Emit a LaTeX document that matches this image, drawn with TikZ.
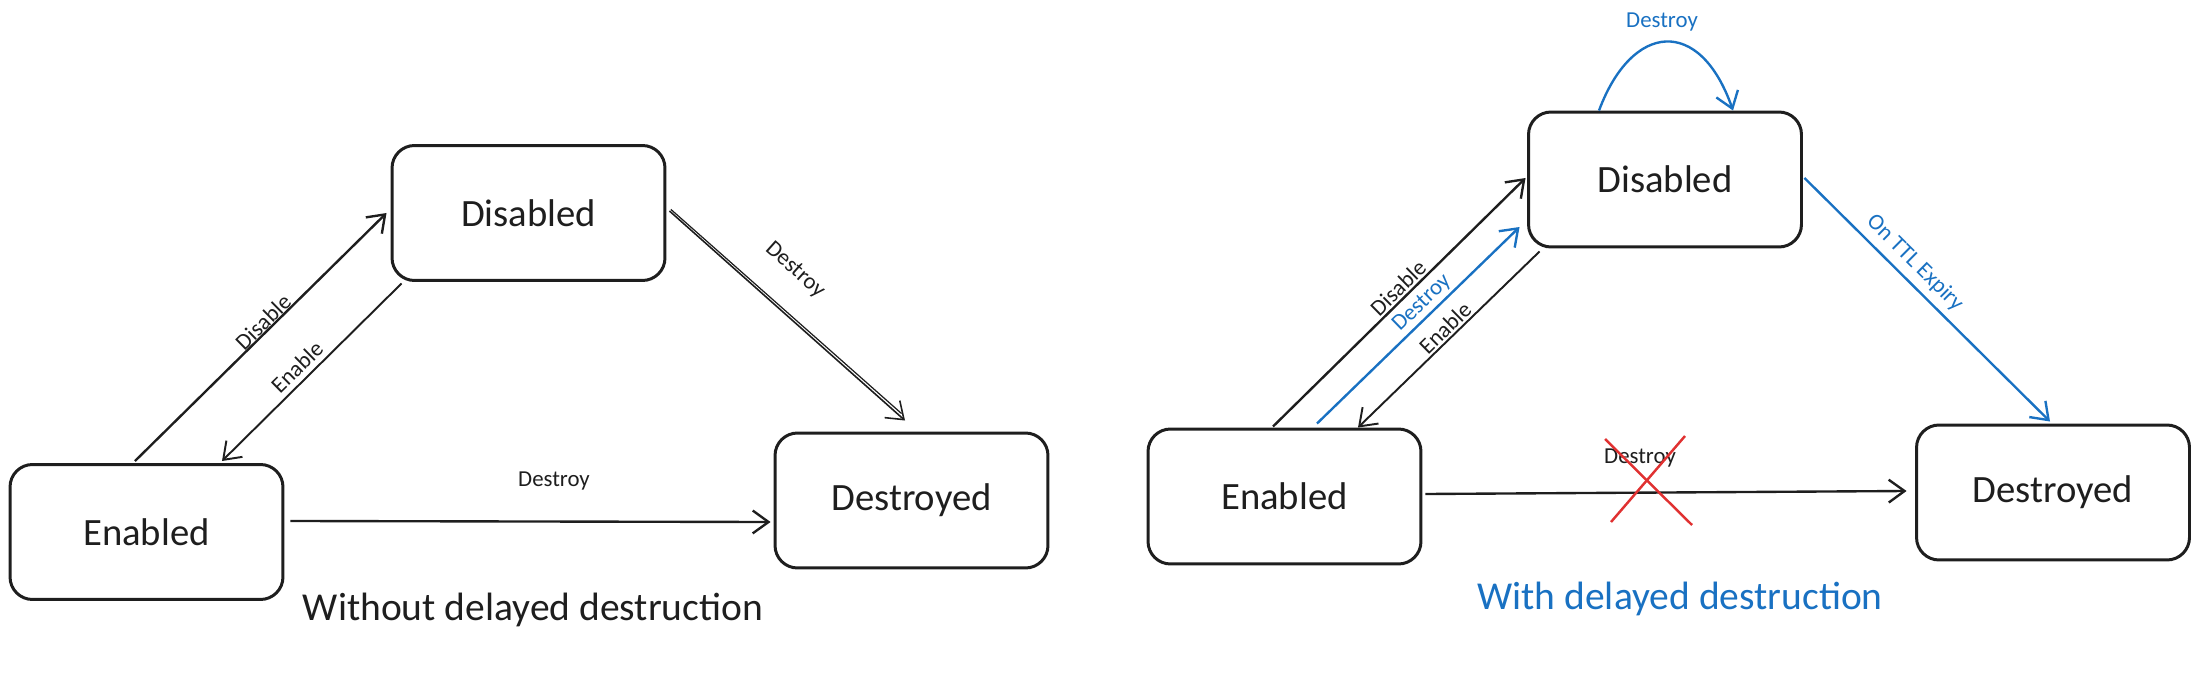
\documentclass[tikz,border=0pt]{standalone}
\usepackage{fontspec}
\setmainfont{Carlito}
\usetikzlibrary{arrows.meta,calc}
\definecolor{exblue}{HTML}{1971C2}
\definecolor{exred}{HTML}{E03131}
\definecolor{exink}{HTML}{1E1E1E}
\begin{document}
\begin{tikzpicture}[x=0.02cm,y=-0.02cm,
  statebox/.style={draw=exink, line width=1.7pt, rounded corners=0.45cm,
    minimum width=5.46cm, minimum height=2.7cm, inner sep=0pt,
    text=exink, font=\fontsize{22}{26}\selectfont},
  conn/.style={draw=exink, line width=1.35pt, -{Straight Barb[length=9pt,width=13pt]}},
  bconn/.style={conn, draw=exblue},
  lbl/.style={font=\fontsize{13}{15}\selectfont, inner sep=1pt, text=exink},
  blbl/.style={lbl, text=exblue},
  titletext/.style={font=\fontsize{22.5}{26}\selectfont, inner sep=0pt},
  cross/.style={draw=exred, line width=1.4pt}]
\useasboundingbox (0,0) rectangle (2200,675);

% ---------- left diagram ----------
\node[statebox] (Ldis) at (528.5,213) {Disabled};
\node[statebox] (Len)  at (146.5,532) {Enabled};
\node[statebox] (Ldes) at (911.5,500.5) {Destroyed};

\draw[conn] ($(Len.north)+(-11.5,-2)$) -- ($(Ldis.west)+(-4,0)$);
\draw[conn, line width=1.1pt] ($(Ldis.south west)+(11,1.5)$) -- ($(Len.north)+(75.5,-2)$);
\draw[conn, line width=0.9pt] ($(Ldis.east)+(3,-2)$) -- ($(Ldes.north)+(-6.5,-11)$);
\draw[draw=exink, line width=0.7pt] ($(Ldis.east)+(4.4,-3.6)$) -- ($(Ldes.north)+(-10,-18)$);
\draw[conn] ($(Len.east)+(6,-11)$) -- ($(Ldes.west)+(-3,21.5)$);

\node[lbl, rotate=44.5] (LlDisable) at (263,322) {Disable};
\node[lbl, rotate=44.5] (LlEnable) at (297,367) {Enable};
\node[lbl, rotate=-41.7] (LlDestroyD) at (795,270) {Destroy};
\node[lbl] (LlDestroyH) at (554,481) {Destroy};

\node[titletext, text=exink] (Ltitle) at (533,610) {Without delayed destruction};

% ---------- right diagram ----------
\node[statebox] (Rdis) at (1665,179.5) {Disabled};
\node[statebox] (Ren)  at (1284.5,496.5) {Enabled};
\node[statebox] (Rdes) at (2053,492.5) {Destroyed};

\draw[conn] ($(Ren.north)+(-11.5,-1)$) -- ($(Rdis.west)+(-1.5,-1.5)$);
\draw[bconn] ($(Ren.north)+(32.5,-4)$) -- ($(Rdis.west)+(-7.5,47.5)$);
\draw[conn, line width=1.1pt] ($(Rdis.south west)+(12.5,3)$) -- ($(Ren.north)+(73.5,0)$);
\draw[bconn] ($(Rdis.north)+(-66,0)$) .. controls (1632,22) and (1700,16) .. ($(Rdis.north)+(68,0)$);
\draw[bconn] ($(Rdis.east)+(1.5,-1.5)$) -- ($(Rdes.north)+(-3,-2)$);
\draw[conn] ($(Ren.east)+(3,-2.5)$) -- ($(Rdes.west)+(-8.5,-1.5)$);

\node[lbl, rotate=44.5] (RlDisable) at (1398,288) {Disable};
\node[blbl, rotate=44.2] (RlDestroyD) at (1422,303) {Destroy};
\node[lbl, rotate=44.4] (RlEnable) at (1445,328) {Enable};
\node[blbl] (RlDestroyTop) at (1662,22) {Destroy};
\node[blbl, rotate=-44.8] (RlTTL) at (1915,263) {On TTL Expiry};
\node[lbl] (RlDestroyX) at (1640,458) {Destroy};

\draw[cross] (1605,439) -- (1692,525);
\draw[cross] (1685,436) -- (1611,522);

\node[titletext, text=exblue] (Rtitle) at (1680,599) {With delayed destruction};
\end{tikzpicture}
\end{document}
